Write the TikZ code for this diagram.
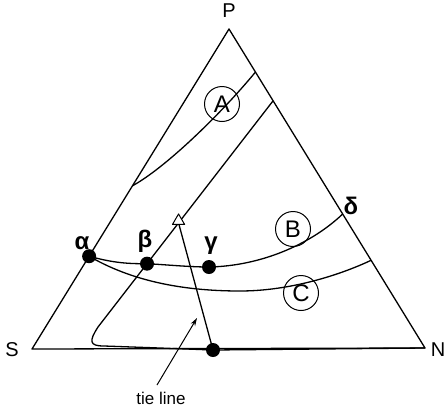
\documentclass[tikz,border=0pt]{standalone}
\usepackage{fontspec}
\setmainfont{Liberation Sans}
\usetikzlibrary{arrows.meta,calc,shapes.geometric}

\begin{document}
\begin{tikzpicture}[x=1pt, y=-1pt,
  line width=1.3pt, line join=round,
  vertice/.style={font=\fontsize{20}{22}\selectfont},
  greek/.style={font=\fontsize{24}{26}\selectfont\bfseries},
  ring/.style={draw, circle, fill=none, minimum size=35pt, inner sep=0pt, line width=1pt, font=\fontsize{24}{26}\selectfont},
  bead/.style={circle, fill, inner sep=0pt, minimum size=14pt},
  marca/.style={draw, regular polygon, regular polygon sides=3, fill=white, inner sep=0pt, minimum size=14pt, line width=1pt},
  flecha/.style={-{Stealth[length=8pt,width=5pt]}, line width=1pt}
]
  \useasboundingbox (0,0) rectangle (447,413);
  % vertices
  \coordinate (P) at (229,29);
  \coordinate (S) at (32,349);
  \coordinate (N) at (425,348);
  \node[vertice] (pl) at (229,11) {P};
  \node[vertice] (sl) at (12,350) {S};
  \node[vertice] (nl) at (438,350) {N};
  \draw (S) -- (P) -- (N) -- cycle;

  % curve A
  \coordinate (a1) at ($(S)!0.51!(P)$);
  \coordinate (a2) at ($(N)!0.865!(P)$);
  \draw (a1) .. controls (165,168) and (220,115) .. (a2);
  \node[ring] (ca) at (222,104) {A};

  % binodal
  \coordinate (d1) at ($(N)!0.775!(P)$);
  \coordinate (d0) at (98,327);
  \coordinate (be) at ($(d1)!0.72!(d0)$);
  \coordinate (tri) at ($(d1)!0.54!(d0)$);
  \coordinate (bot) at (213,350);
  \draw (d1) -- (d0) .. controls (89,341) and (89,346) .. (104,346)
        .. controls (160,348) .. (bot) -- (N);

  % curves B and C
  \coordinate (al) at ($(S)!0.29!(P)$);
  \coordinate (ga) at (209,267);
  \coordinate (bend) at ($(N)!0.42!(P)$);
  \coordinate (cend) at ($(N)!0.275!(P)$);
  \draw (al) .. controls (110,262) and (125,264) .. (be)
        .. controls (170,265) and (190,267) .. (ga)
        .. controls (260,266) and (310,245) .. (bend);
  \draw (al) .. controls (130,280) and (180,291) .. (240,291)
        .. controls (290,291) and (340,275) .. (cend);
  \node[ring] (cb) at (293,229) {B};
  \node[ring] (cc) at (301,293) {C};

  % tie line
  \draw (tri) -- (bot);
  \node[marca] (tm) at ($(tri)+(0,-2)$) {};
  \node[bead] (pa) at (al) {};
  \node[bead] (pb) at (be) {};
  \node[bead] (pg) at (ga) {};
  \node[bead] (pt) at (bot) {};

  \node[greek] (la) at (82,243) {α};
  \node[greek] (lb) at (145,241) {β};
  \node[greek] (lg) at (211,246) {γ};
  \node[greek] (ld) at (351,206) {δ};

  \node[font=\fontsize{17}{20}\selectfont] (tl) at (161,398) {tie line};
  \coordinate (tail) at (157,385);
  \coordinate (tip) at (197,318);
  \draw[flecha] (tail) -- (tip);
\end{tikzpicture}
\end{document}
